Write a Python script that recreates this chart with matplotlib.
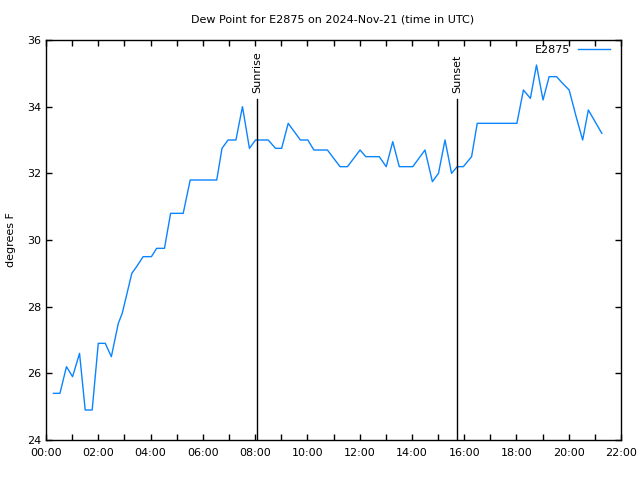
import matplotlib
matplotlib.use("Agg")
import matplotlib.pyplot as plt
from matplotlib.ticker import MultipleLocator, FuncFormatter

STATION = "E2875"
TITLE = "Dew Point for E2875 on 2024-Nov-21 (time in UTC)"
LINE_COLOR = "#0a84ff"

times = ["00:17", "00:32", "00:47", "01:01", "01:17", "01:30", "01:46", "02:00",
         "02:16", "02:30", "02:46", "02:55", "03:17", "03:28", "03:43", "04:02",
         "04:14", "04:32", "04:46", "05:15", "05:31", "06:32", "06:44", "06:58",
         "07:16", "07:31", "07:47", "08:01", "08:30", "08:47", "09:01", "09:16",
         "09:44", "10:01", "10:15", "10:46", "11:15", "11:32", "12:01", "12:14",
         "12:45", "13:01", "13:16", "13:31", "14:02", "14:30", "14:47", "15:01",
         "15:16", "15:31", "15:44", "15:58", "16:17", "16:30", "18:01", "18:16",
         "18:32", "18:46", "19:01", "19:15", "19:32", "19:46", "20:01", "20:17",
         "20:32", "20:45", "21:16"]
dewpt = [25.4, 25.4, 26.2, 25.9, 26.6, 24.9, 24.9, 26.9,
         26.9, 26.5, 27.5, 27.8, 29.0, 29.2, 29.5, 29.5,
         29.75, 29.75, 30.8, 30.8, 31.8, 31.8, 32.75, 33.0,
         33.0, 34.0, 32.75, 33.0, 33.0, 32.75, 32.75, 33.5,
         33.0, 33.0, 32.7, 32.7, 32.2, 32.2, 32.7, 32.5,
         32.5, 32.2, 32.95, 32.2, 32.2, 32.7, 31.75, 32.0,
         33.0, 32.0, 32.2, 32.2, 32.5, 33.5, 33.5, 34.5,
         34.25, 35.25, 34.2, 34.9, 34.9, 34.7, 34.5, 33.7,
         33.0, 33.9, 33.2]

sun_labels = ["Sunrise", "Sunset"]
sun_times = ["08:04", "15:44"]


def to_hours(s):
    h, m = s.split(":")
    return int(h) + int(m) / 60.0


x = [to_hours(t) for t in times]

plt.rcParams["font.family"] = ["DejaVu Sans"]
plt.rcParams["font.size"] = 8

fig = plt.figure(figsize=(6.4, 4.8), dpi=100)
ax = fig.add_axes([46 / 640, 40 / 480, 575 / 640, 400 / 480])

ax.plot(x, dewpt, color=LINE_COLOR, lw=1.0, label=STATION)

for lab, t in zip(sun_labels, sun_times):
    h = to_hours(t)
    ax.plot([h, h], [24, 34.23], color="black", lw=1.0)
    ax.text(h, 34.4, lab, rotation=90, ha="center", va="bottom", fontsize=8)

ax.set_xlim(0, 22)
ax.set_ylim(24, 36)
ax.xaxis.set_major_locator(MultipleLocator(2))
ax.xaxis.set_minor_locator(MultipleLocator(1))
ax.xaxis.set_major_formatter(FuncFormatter(lambda v, p: f"{int(v):02d}:00"))
ax.yaxis.set_major_locator(MultipleLocator(2))
ax.tick_params(which="both", direction="in", top=True, right=True, length=4,
               width=1, labelsize=8)
ax.tick_params(axis="x", pad=6)
for s in ax.spines.values():
    s.set_linewidth(1)

ax.set_ylabel("degrees F", fontsize=8, labelpad=8)
fig.suptitle(TITLE, fontsize=8, x=333 / 640, y=1 - 19 / 480, va="center")

ax.legend(loc="upper right", bbox_to_anchor=(0.985, 0.995), frameon=False,
          fontsize=8, markerfirst=False, handlelength=2.8,
          borderaxespad=0.0, borderpad=0.25, handletextpad=0.7)

fig.savefig("out.png", dpi=100)
